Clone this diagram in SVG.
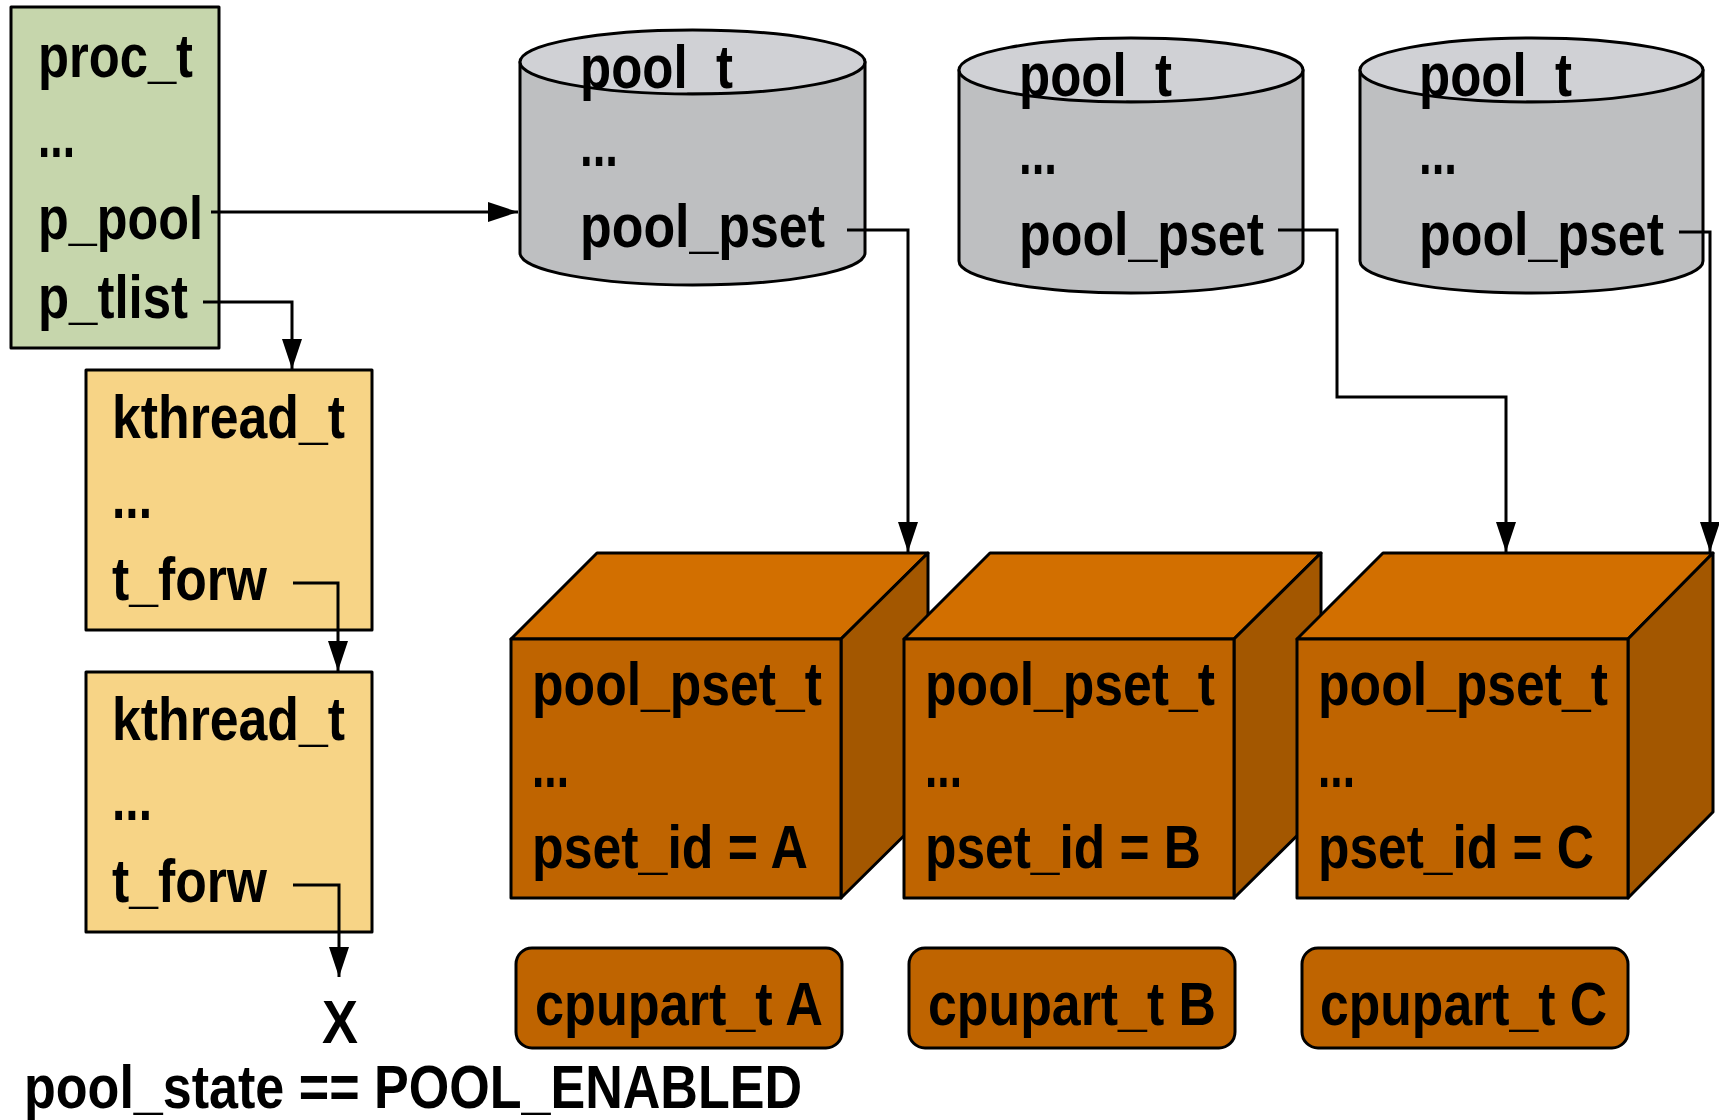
<svg xmlns="http://www.w3.org/2000/svg" width="1719" height="1120" viewBox="0 0 1719 1120">
<style>
text{font-family:"Liberation Sans",Arial,sans-serif;font-weight:bold;font-size:62px;fill:#000}
.box{stroke:#000;stroke-width:3;stroke-linejoin:round}
.proc{fill:#c6d6ac}
.kt{fill:#f7d486}
.cylb{fill:#bebfc1}
.cylt{fill:#d0d1d5}
.front{fill:#bf6400}
.top{fill:#d26f00}
.side{fill:#a35700}
.conn{fill:none;stroke:#000;stroke-width:3}
</style>
<defs>
<marker id="ah" viewBox="0 0 30 20" refX="30" refY="10" markerWidth="30" markerHeight="20" markerUnits="userSpaceOnUse" orient="auto">
<path d="M0,0 L30,10 L0,20 Z" fill="#000"/>
</marker>
</defs>
<rect width="1719" height="1120" fill="#fff"/>

<g id="proc_t">
<rect class="box proc" x="11" y="7" width="208" height="341"/>
<text x="38" y="77" textLength="155" lengthAdjust="spacingAndGlyphs">proc_t</text>
<text x="38" y="157" textLength="37" lengthAdjust="spacingAndGlyphs">...</text>
<text x="38" y="239" textLength="165" lengthAdjust="spacingAndGlyphs">p_pool</text>
<text x="38" y="318" textLength="150" lengthAdjust="spacingAndGlyphs">p_tlist</text>
</g>

<g id="kthread1">
<rect class="box kt" x="86" y="370" width="286" height="260"/>
<text x="112" y="438" textLength="233" lengthAdjust="spacingAndGlyphs">kthread_t</text>
<text x="112" y="518" textLength="40" lengthAdjust="spacingAndGlyphs">...</text>
<text x="112" y="600" textLength="155" lengthAdjust="spacingAndGlyphs">t_forw</text>
</g>

<g id="kthread2">
<rect class="box kt" x="86" y="672" width="286" height="260"/>
<text x="112" y="740" textLength="233" lengthAdjust="spacingAndGlyphs">kthread_t</text>
<text x="112" y="820" textLength="40" lengthAdjust="spacingAndGlyphs">...</text>
<text x="112" y="902" textLength="155" lengthAdjust="spacingAndGlyphs">t_forw</text>
</g>

<g id="x_end">
<text x="322" y="1043" textLength="36" lengthAdjust="spacingAndGlyphs">X</text>
</g>

<g id="pool_state">
<text x="24" y="1108" textLength="778" lengthAdjust="spacingAndGlyphs">pool_state == POOL_ENABLED</text>
</g>

<g id="pool1">
<path class="box cylb" d="M520,62 V253 A172.5,32 0 0 0 865,253 V62 Z"/>
<ellipse class="box cylt" cx="692.5" cy="62" rx="172.5" ry="32"/>
<text x="580" y="88" textLength="153" lengthAdjust="spacingAndGlyphs">pool_t</text>
<text x="580" y="166" textLength="38" lengthAdjust="spacingAndGlyphs">...</text>
<text x="580" y="247" textLength="245" lengthAdjust="spacingAndGlyphs">pool_pset</text>
</g>

<g id="pool2">
<path class="box cylb" d="M959,70 V261 A172,32 0 0 0 1303,261 V70 Z"/>
<ellipse class="box cylt" cx="1131" cy="70" rx="172" ry="32"/>
<text x="1019" y="96" textLength="153" lengthAdjust="spacingAndGlyphs">pool_t</text>
<text x="1019" y="174" textLength="38" lengthAdjust="spacingAndGlyphs">...</text>
<text x="1019" y="255" textLength="245" lengthAdjust="spacingAndGlyphs">pool_pset</text>
</g>

<g id="pool3">
<path class="box cylb" d="M1360,70 V261 A171.5,32 0 0 0 1703,261 V70 Z"/>
<ellipse class="box cylt" cx="1531.5" cy="70" rx="171.5" ry="32"/>
<text x="1419" y="96" textLength="153" lengthAdjust="spacingAndGlyphs">pool_t</text>
<text x="1419" y="174" textLength="38" lengthAdjust="spacingAndGlyphs">...</text>
<text x="1419" y="255" textLength="245" lengthAdjust="spacingAndGlyphs">pool_pset</text>
</g>

<g id="pset_A">
<polygon class="box top" points="511,639 597,553 928,553 841,639"/>
<polygon class="box side" points="841,639 928,553 928,812 841,898"/>
<rect class="box front" x="511" y="639" width="330" height="259"/>
<text x="532" y="705" textLength="290" lengthAdjust="spacingAndGlyphs">pool_pset_t</text>
<text x="532" y="787" textLength="37" lengthAdjust="spacingAndGlyphs">...</text>
<text x="532" y="868" textLength="276" lengthAdjust="spacingAndGlyphs">pset_id = A</text>
</g>

<g id="pset_B">
<polygon class="box top" points="904,639 990,553 1321,553 1234,639"/>
<polygon class="box side" points="1234,639 1321,553 1321,812 1234,898"/>
<rect class="box front" x="904" y="639" width="330" height="259"/>
<text x="925" y="705" textLength="290" lengthAdjust="spacingAndGlyphs">pool_pset_t</text>
<text x="925" y="787" textLength="37" lengthAdjust="spacingAndGlyphs">...</text>
<text x="925" y="868" textLength="276" lengthAdjust="spacingAndGlyphs">pset_id = B</text>
</g>

<g id="pset_C">
<polygon class="box top" points="1297,639 1383,553 1713,553 1628,639"/>
<polygon class="box side" points="1628,639 1713,553 1713,812 1628,898"/>
<rect class="box front" x="1297" y="639" width="331" height="259"/>
<text x="1318" y="705" textLength="290" lengthAdjust="spacingAndGlyphs">pool_pset_t</text>
<text x="1318" y="787" textLength="37" lengthAdjust="spacingAndGlyphs">...</text>
<text x="1318" y="868" textLength="276" lengthAdjust="spacingAndGlyphs">pset_id = C</text>
</g>

<g id="cpupart_A">
<rect class="box front" x="516" y="948" width="326" height="100" rx="16"/>
<text x="535" y="1025" textLength="288" lengthAdjust="spacingAndGlyphs">cpupart_t A</text>
</g>
<g id="cpupart_B">
<rect class="box front" x="909" y="948" width="326" height="100" rx="16"/>
<text x="928" y="1025" textLength="288" lengthAdjust="spacingAndGlyphs">cpupart_t B</text>
</g>
<g id="cpupart_C">
<rect class="box front" x="1302" y="948" width="326" height="100" rx="16"/>
<text x="1320" y="1025" textLength="287" lengthAdjust="spacingAndGlyphs">cpupart_t C</text>
</g>

<g id="connectors">
<path class="conn" d="M211,212 H518" marker-end="url(#ah)"/>
<path class="conn" d="M203,302 H292 V369" marker-end="url(#ah)"/>
<path class="conn" d="M293,583 H338 V671" marker-end="url(#ah)"/>
<path class="conn" d="M293,885 H339 V977" marker-end="url(#ah)"/>
<path class="conn" d="M847,230 H908 V552" marker-end="url(#ah)"/>
<path class="conn" d="M1278,230 H1337 V397 H1506 V552" marker-end="url(#ah)"/>
<path class="conn" d="M1679,232 H1710 V552" marker-end="url(#ah)"/>
</g>
</svg>
